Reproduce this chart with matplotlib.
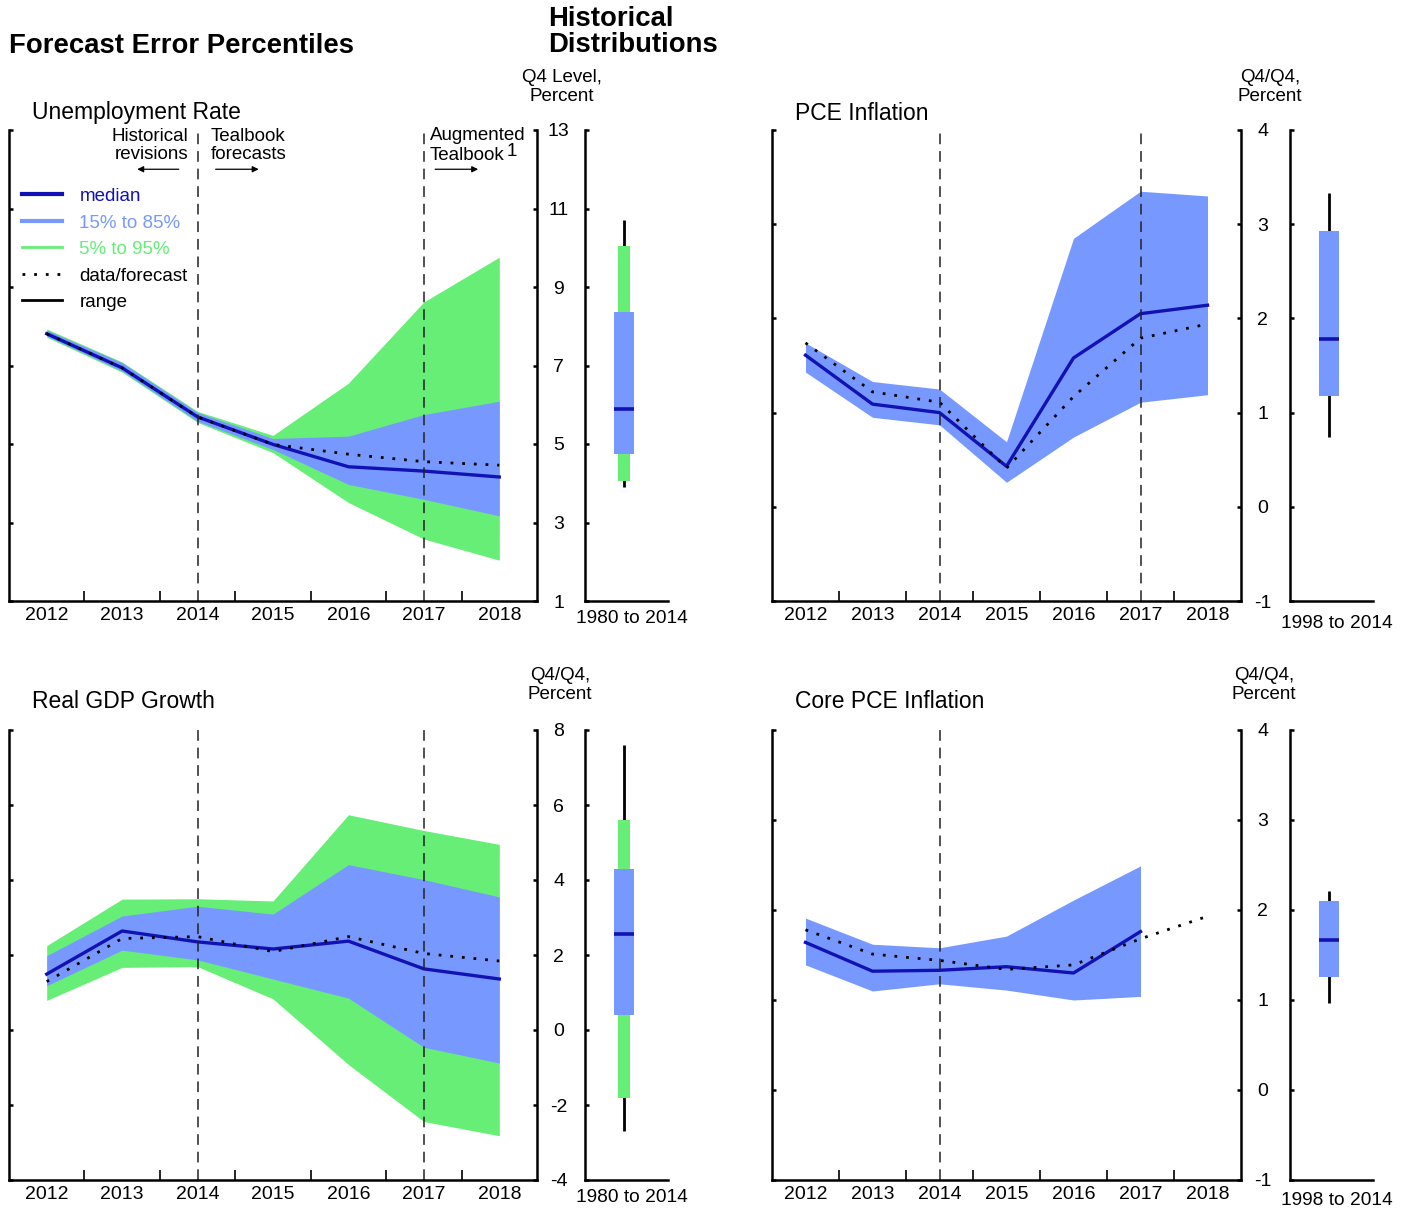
import matplotlib.pyplot as plt
import matplotlib as mpl
from matplotlib.lines import Line2D

mpl.rcParams["font.family"] = ["Liberation Sans", "DejaVu Sans"]
mpl.rcParams["axes.linewidth"] = 1.8

BLUE_BAND = "#7799ff"
GREEN_BAND = "#66ee77"
MEDIAN_COLOR = "#1212b4"
TICK_SIZE = 14
TEXT_SIZE = 13.5
TITLE_SIZE = 16.5
HEAD_SIZE = 19.8

years = [2012, 2013, 2014, 2015, 2016, 2017, 2018]
year_labels = [str(y) for y in years]

### Unemployment rate
ur_median = [7.81, 6.94, 5.69, 4.99, 4.42, 4.31, 4.16]
ur_forecast = [7.81, 6.94, 5.69, 4.99, 4.74, 4.55, 4.46]
ur_p15 = [7.75, 6.86, 5.58, 4.86, 3.97, 3.59, 3.17]
ur_p85 = [7.90, 7.07, 5.80, 5.14, 5.20, 5.75, 6.09]
ur_p05 = [7.72, 6.83, 5.55, 4.78, 3.51, 2.58, 2.04]
ur_p95 = [7.93, 7.09, 5.83, 5.22, 6.55, 8.62, 9.76]
# min, p05, p15, median, p85, p95, max  (1980 to 2014)
ur_hist = [3.91, 4.06, 4.74, 5.90, 8.37, 10.04, 10.70]

### PCE inflation
pce_median = [1.61, 1.09, 1.00, 0.43, 1.58, 2.05, 2.14]
pce_forecast = [1.74, 1.22, 1.11, 0.41, 1.17, 1.79, 1.94]
pce_p15 = [1.43, 0.95, 0.87, 0.26, 0.74, 1.11, 1.19]
pce_p85 = [1.74, 1.33, 1.25, 0.69, 2.85, 3.35, 3.30]
# min, p15, median, p85, max  (1998 to 2014)
pce_hist = [0.74, 1.18, 1.78, 2.93, 3.33]

### Real GDP growth
gdp_median = [1.49, 2.64, 2.35, 2.16, 2.37, 1.63, 1.36]
gdp_forecast = [1.29, 2.44, 2.49, 2.09, 2.49, 2.04, 1.84]
gdp_p15 = [1.18, 2.13, 1.87, 1.36, 0.85, -0.46, -0.88]
gdp_p85 = [1.98, 3.04, 3.30, 3.09, 4.41, 4.01, 3.55]
gdp_p05 = [0.79, 1.67, 1.69, 0.83, -0.92, -2.44, -2.82]
gdp_p95 = [2.25, 3.49, 3.50, 3.44, 5.74, 5.32, 4.95]
gdp_hist = [-2.70, -1.81, 0.41, 2.55, 4.29, 5.59, 7.60]

### Core PCE inflation (bands end in 2017)
core_median = [1.64, 1.32, 1.33, 1.37, 1.30, 1.76]
core_forecast = [1.78, 1.51, 1.44, 1.34, 1.39, 1.68, 1.93]
core_p15 = [1.39, 1.10, 1.18, 1.11, 1.00, 1.04]
core_p85 = [1.91, 1.62, 1.58, 1.71, 2.11, 2.49]
core_hist = [0.97, 1.26, 1.67, 2.10, 2.21]


def style_main(ax, ylim, yticks):
    ax.set_xlim(2011.5, 2018.5)
    ax.set_ylim(*ylim)
    ax.spines["top"].set_visible(False)
    ax.set_xticks([y + 0.5 for y in years[:-1]])
    ax.set_xticklabels([])
    ax.set_xticks(years, minor=True)
    ax.set_xticklabels(year_labels, minor=True)
    ax.tick_params(axis="x", which="major", direction="in", length=7, width=1.2)
    ax.tick_params(axis="x", which="minor", length=0, pad=4, labelsize=TICK_SIZE)
    ax.set_yticks(yticks)
    ax.set_yticklabels([f"{v:g}" for v in yticks])
    ax.tick_params(axis="y", direction="in", length=3, width=1.8, left=True,
                   right=True, labelleft=False, labelright=True, pad=15.5,
                   labelsize=TICK_SIZE)
    for t in ax.yaxis.get_major_ticks():
        t.label2.set_horizontalalignment("center")


def draw_main(ax, median, forecast, p15, p85, p05=None, p95=None, vlines=(2014, 2017)):
    if p05 is not None:
        ax.fill_between(years[:len(p05)], p05, p95, color=GREEN_BAND, lw=0)
    ax.fill_between(years[:len(p15)], p15, p85, color=BLUE_BAND, lw=0)
    ax.plot(years[:len(median)], median, color=MEDIAN_COLOR, lw=2.4)
    ax.plot(years[:len(forecast)], forecast, color="k", lw=2.0, ls=(0, (1, 3.2)))
    for v in vlines:
        ax.axvline(v, color="#222222", lw=1.1, ls=(0, (7, 4.5)))


def draw_box(ax, hist, ylim, yticks, label, green=True, label_y=-0.02):
    pos = 0.47
    ax.set_xlim(0, 1)
    ax.set_ylim(*ylim)
    for s in ("top", "right"):
        ax.spines[s].set_visible(False)
    ax.set_xticks([])
    ax.set_yticks(yticks)
    ax.tick_params(axis="y", direction="in", length=3, width=1.8, labelleft=False)
    ax.vlines(pos, hist[0], hist[-1], color="k", lw=2.0, zorder=0.5)
    if green:
        ax.bar(pos, hist[5] - hist[1], bottom=hist[1], width=0.145,
               color=GREEN_BAND, zorder=1)
        p15, med, p85 = hist[2], hist[3], hist[4]
    else:
        p15, med, p85 = hist[1], hist[2], hist[3]
    ax.bar(pos, p85 - p15, bottom=p15, width=0.23, color=BLUE_BAND, zorder=1.5)
    ax.hlines(med, pos - 0.115, pos + 0.115, color=MEDIAN_COLOR, lw=2.6, zorder=2)
    ax.set_xlabel(label, fontsize=TEXT_SIZE + 0.3)
    ax.xaxis.set_label_coords(0.565, label_y)


W, H = 1408, 1210
fig = plt.figure(figsize=(W / 100, H / 100), dpi=100)


def frac(x0, y0, x1, y1):
    return [x0 / W, 1 - y1 / H, (x1 - x0) / W, (y1 - y0) / H]


ax_ur = fig.add_axes(frac(9, 130, 537, 601))
ax_ur_box = fig.add_axes(frac(585, 130, 668, 601))
ax_pce = fig.add_axes(frac(772, 130, 1241, 601))
ax_pce_box = fig.add_axes(frac(1290, 130, 1373, 601))
ax_gdp = fig.add_axes(frac(9, 730, 537, 1180))
ax_gdp_box = fig.add_axes(frac(585, 730, 668, 1180))
ax_core = fig.add_axes(frac(772, 730, 1241, 1180))
ax_core_box = fig.add_axes(frac(1290, 730, 1373, 1180))

ur_ticks = [1, 3, 5, 7, 9, 11, 13]
infl_ticks = [-1, 0, 1, 2, 3, 4]
gdp_ticks = [-4, -2, 0, 2, 4, 6, 8]

draw_main(ax_ur, ur_median, ur_forecast, ur_p15, ur_p85, ur_p05, ur_p95)
style_main(ax_ur, (1, 13), ur_ticks)
draw_box(ax_ur_box, ur_hist, (1, 13), ur_ticks, "1980 to 2014", label_y=-0.019)

draw_main(ax_pce, pce_median, pce_forecast, pce_p15, pce_p85)
style_main(ax_pce, (-1, 4), infl_ticks)
draw_box(ax_pce_box, pce_hist, (-1, 4), infl_ticks, "1998 to 2014", green=False,
         label_y=-0.029)

draw_main(ax_gdp, gdp_median, gdp_forecast, gdp_p15, gdp_p85, gdp_p05, gdp_p95)
style_main(ax_gdp, (-4, 8), gdp_ticks)
draw_box(ax_gdp_box, gdp_hist, (-4, 8), gdp_ticks, "1980 to 2014", label_y=-0.02)

draw_main(ax_core, core_median, core_forecast, core_p15, core_p85, vlines=(2014,))
style_main(ax_core, (-1, 4), infl_ticks)
draw_box(ax_core_box, core_hist, (-1, 4), infl_ticks, "1998 to 2014", green=False,
         label_y=-0.027)

### Annotations on the unemployment panel
ax_ur.text(2013.88, 12.6, "Historical\nrevisions", ha="right", va="center",
           fontsize=TEXT_SIZE, linespacing=1.1)
ax_ur.text(2014.17, 12.6, "Tealbook\nforecasts", ha="left", va="center",
           fontsize=TEXT_SIZE, linespacing=1.1)
ax_ur.text(2017.08, 12.85, "Augmented", ha="left", va="center", fontsize=TEXT_SIZE)
ax_ur.text(2017.08, 12.36, "Tealbook", ha="left", va="center", fontsize=TEXT_SIZE)
ax_ur.text(2018.1, 12.46, "1", ha="left", va="center", fontsize=TEXT_SIZE)
arrow = dict(arrowstyle="-|>", color="k", lw=0.9, mutation_scale=9, shrinkA=0, shrinkB=0)
ax_ur.annotate("", xy=(2013.2, 12.0), xytext=(2013.75, 12.0), arrowprops=arrow)
ax_ur.annotate("", xy=(2014.81, 12.0), xytext=(2014.24, 12.0), arrowprops=arrow)
ax_ur.annotate("", xy=(2017.72, 12.0), xytext=(2017.15, 12.0), arrowprops=arrow)

handles = [
    Line2D([], [], color=MEDIAN_COLOR, lw=3),
    Line2D([], [], color=BLUE_BAND, lw=3),
    Line2D([], [], color=GREEN_BAND, lw=2),
    Line2D([], [], color="k", lw=2, ls=(0, (1, 3.2))),
    Line2D([], [], color="k", lw=2),
]
ax_ur.legend(handles, ["median", "15% to 85%", "5% to 95%", "data/forecast", "range"],
             labelcolor=[MEDIAN_COLOR, BLUE_BAND, GREEN_BAND, "k", "k"],
             loc="upper left", bbox_to_anchor=(0.024, 0.877), frameon=False,
             fontsize=TEXT_SIZE, borderpad=0, borderaxespad=0, handlelength=2.13,
             handletextpad=0.95, labelspacing=0.5)

### Titles and unit labels
fig.text(9 / W, 1 - 46 / H, "Forecast Error Percentiles", fontsize=HEAD_SIZE,
         fontweight="bold", ha="left", va="center")
fig.text(548 / W, 1 - 32 / H, "Historical\nDistributions", fontsize=HEAD_SIZE,
         fontweight="bold", ha="left", va="center", linespacing=1.05)
for x, y, s in [(32, 113, "Unemployment Rate"), (795, 113, "PCE Inflation"),
                (32, 701, "Real GDP Growth"), (795, 701, "Core PCE Inflation")]:
    fig.text(x / W, 1 - y / H, s, fontsize=TITLE_SIZE, ha="left", va="center")
for x, y, s in [(562, 87, "Q4 Level,\nPercent"), (1270, 87, "Q4/Q4,\nPercent"),
                (560, 685, "Q4/Q4,\nPercent"), (1264, 685, "Q4/Q4,\nPercent")]:
    fig.text(x / W, 1 - y / H, s, fontsize=TEXT_SIZE, ha="center", va="center",
             linespacing=1.12)

fig.savefig("out.png", dpi=100)
